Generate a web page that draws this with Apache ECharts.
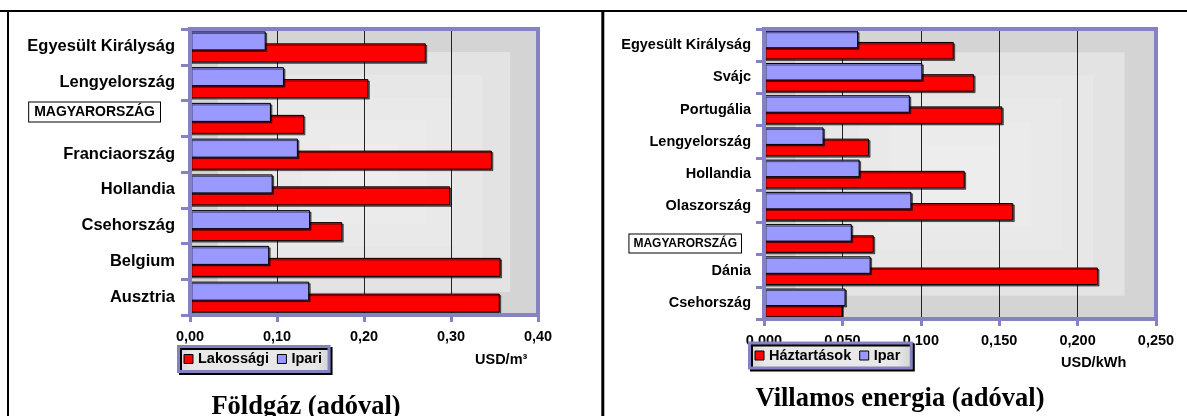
<!DOCTYPE html>
<html>
<head>
<meta charset="utf-8">
<script src="https://cdn.jsdelivr.net/npm/echarts@6/dist/echarts.min.js"></script>
<style>
  html, body { margin: 0; padding: 0; background: #ffffff; }
  #chart { width: 1187px; height: 416px; }
</style>
</head>
<body>
<div id="chart"></div>
<script>
// ---- Földgáz (natural gas, with tax), USD/m3 ----
const gasCountries = ['Egyesült Királyság', 'Lengyelország', 'MAGYARORSZÁG', 'Franciaország', 'Hollandia', 'Csehország', 'Belgium', 'Ausztria'];
const gasHousehold = [0.271, 0.205, 0.131, 0.347, 0.299, 0.175, 0.357, 0.356];
const gasIndustry  = [0.087, 0.108, 0.093, 0.124, 0.095, 0.138, 0.091, 0.137];
const gasTickLabels = ['0,00', '0,10', '0,20', '0,30', '0,40'];

// ---- Villamos energia (electricity, with tax), USD/kWh ----
const elecCountries = ['Egyesült Királyság', 'Svájc', 'Portugália', 'Lengyelország', 'Hollandia', 'Olaszország', 'MAGYARORSZÁG', 'Dánia', 'Csehország'];
const elecHousehold = [0.121, 0.134, 0.152, 0.067, 0.128, 0.159, 0.070, 0.213, 0.050];
const elecIndustry  = [0.060, 0.101, 0.093, 0.038, 0.061, 0.094, 0.056, 0.068, 0.052];
const elecTickLabels = ['0,000', '0,050', '0,100', '0,150', '0,200', '0,250'];

const HU = 'MAGYARORSZÁG';
const PURPLE = '#8482c2';
const RED = '#ff0000';
const BLUE = '#9999ff';
const SANS = '"Liberation Sans", Arial, sans-serif';
const SERIF = '"Liberation Serif", "Times New Roman", serif';

// plot rectangles (pixels)
const gasRect  = { x: 190, y: 29, w: 348, h: 286 };
const elecRect = { x: 764, y: 29, w: 392, h: 290 };

const chart = echarts.init(document.getElementById('chart'), null, { renderer: 'canvas' });

// soft stepped gray fill behind each plot area
function backdrop(r) {
  const colors = ['#d4d4d4', '#e3e3e3', '#e7e7e7', '#e9e9e9', '#ebebeb', '#ededed'];
  return colors.map((c, k) => {
    const fx = 0.08 * k, fy = 0.08 * k;
    return {
      type: 'rect', z: -10, silent: true,
      shape: { x: r.x + r.w * fx, y: r.y + r.h * fy, width: r.w * (1 - 2 * fx), height: r.h * (1 - 2 * fy) },
      style: { fill: c }
    };
  });
}
function frame(r) {
  return {
    type: 'rect', z: 100, silent: true,
    shape: { x: r.x, y: r.y, width: r.w, height: r.h },
    style: { fill: null, stroke: PURPLE, lineWidth: 4 }
  };
}

function catAxis(idx, cats, fontSize, huSize, huPad, spacer, vAlign, rowH, margin, tickLen) {
  return {
    type: 'category', gridIndex: idx, data: cats, inverse: true,
    axisLine: { show: false },
    axisTick: { show: true, length: tickLen, lineStyle: { color: PURPLE, width: 3 } },
    splitLine: { show: false },
    axisLabel: {
      margin: margin, color: '#000', fontFamily: SANS, fontWeight: 'bold', fontSize: fontSize,
      formatter: v => v === HU ? '{hu|' + v + '}{sp|}' : v,
      rich: {
        hu: {
          fontFamily: SANS, fontWeight: 'bold', fontSize: huSize, color: '#000',
          backgroundColor: '#fff', borderColor: '#000', borderWidth: 1,
          padding: huPad, verticalAlign: vAlign
        },
        sp: { width: spacer, height: rowH }
      }
    }
  };
}
function valAxis(idx, max, step, labels, margin) {
  return {
    type: 'value', gridIndex: idx, min: 0, max: max, interval: step,
    axisLine: { show: false },
    axisTick: { show: true, length: 7, lineStyle: { color: PURPLE, width: 3 } },
    splitLine: { show: true, lineStyle: { color: '#222', width: 1 } },
    axisLabel: {
      margin: margin, color: '#000', fontFamily: SANS, fontWeight: 'bold', fontSize: 14.5,
      formatter: (v, i) => labels[i]
    }
  };
}
function barSeries(name, data, color, idx, width, gap, z) {
  return {
    type: 'bar', name: name, data: data, xAxisIndex: idx, yAxisIndex: idx,
    barWidth: width, barGap: gap, z: z,
    itemStyle: {
      color: color, borderColor: '#000', borderWidth: 1,
      shadowColor: 'rgba(0,0,0,0.55)', shadowOffsetX: 1.5, shadowOffsetY: 1.5, shadowBlur: 0
    },
    emphasis: { disabled: true },
    animation: false
  };
}
function legend(names, left, top, pad) {
  return {
    data: names, left: left, top: top, orient: 'horizontal',
    padding: pad, itemWidth: 9, itemHeight: 9, itemGap: 8,
    icon: 'rect',
    itemStyle: { borderColor: '#000', borderWidth: 1, shadowColor: 'rgba(0,0,0,0)' },
    textStyle: { fontFamily: SANS, fontWeight: 'bold', fontSize: 14.5, color: '#000' },
    backgroundColor: new echarts.graphic.LinearGradient(0, 0, 1, 0, [
      { offset: 0, color: '#d2d2d2' }, { offset: 0.1, color: '#e8e8e8' },
      { offset: 0.9, color: '#e8e8e8' }, { offset: 1, color: '#d2d2d2' }
    ]),
    borderColor: PURPLE, borderWidth: 3,
    shadowColor: '#000', shadowOffsetX: 2, shadowOffsetY: 2, shadowBlur: 0,
    selectedMode: false
  };
}

const option = {
  animation: false,
  grid: [
    { left: gasRect.x, top: gasRect.y, width: gasRect.w, height: gasRect.h, show: false },
    { left: elecRect.x, top: elecRect.y, width: elecRect.w, height: elecRect.h, show: false }
  ],
  xAxis: [
    valAxis(0, 0.4, 0.1, gasTickLabels, 14),
    valAxis(1, 0.25, 0.05, elecTickLabels, 14)
  ],
  yAxis: [
    catAxis(0, gasCountries, 16.5, 14, [3, 5, 2, 5], 15, 'top', 32, 15, 9),
    catAxis(1, elecCountries, 14.5, 12, [3, 4, 3, 4], 10, 'bottom', 28, 13, 8)
  ],
  legend: [
    legend(['Lakossági', 'Ipari'], 178.5, 346.5, [5, 7, 5, 5]),
    legend(['Háztartások', 'Ipar'], 749.5, 343, [5, 11, 5, 5])
  ],
  // industry bars sit in the upper half of each band and overlap the household bars
  series: [
    barSeries('Ipari', gasIndustry, BLUE, 0, 19, '-37%', 3),
    barSeries('Lakossági', gasHousehold, RED, 0, 19, '-37%', 2),
    barSeries('Ipar', elecIndustry, BLUE, 1, 17.5, '-36%', 3),
    barSeries('Háztartások', elecHousehold, RED, 1, 17.5, '-36%', 2)
  ],
  graphic: [
    // panel borders
    { type: 'line', z: 50, silent: true, shape: { x1: 0, y1: 11, x2: 1187, y2: 11 }, style: { stroke: '#000', lineWidth: 2 } },
    { type: 'line', z: 50, silent: true, shape: { x1: 8, y1: 10, x2: 8, y2: 416 }, style: { stroke: '#000', lineWidth: 2 } },
    { type: 'line', z: 50, silent: true, shape: { x1: 602.8, y1: 10, x2: 602.8, y2: 416 }, style: { stroke: '#000', lineWidth: 3 } },
    ...backdrop(gasRect),
    ...backdrop(elecRect),
    frame(gasRect),
    frame(elecRect),
    // units
    { type: 'text', z: 50, silent: true, style: { text: 'USD/m³', x: 475, y: 360, font: 'bold 14.5px ' + SANS, fill: '#000', verticalAlign: 'middle' } },
    { type: 'text', z: 50, silent: true, style: { text: 'USD/kWh', x: 1061, y: 363, font: 'bold 14.5px ' + SANS, fill: '#000', verticalAlign: 'middle' } },
    // panel titles
    { type: 'text', z: 50, silent: true, style: { text: 'Földgáz (adóval)', x: 306, y: 407, font: 'bold 26.5px ' + SERIF, fill: '#000', align: 'center', verticalAlign: 'middle' } },
    { type: 'text', z: 50, silent: true, style: { text: 'Villamos energia (adóval)', x: 900, y: 399, font: 'bold 26.5px ' + SERIF, fill: '#000', align: 'center', verticalAlign: 'middle' } }
  ]
};

chart.setOption(option);
</script>
</body>
</html>
